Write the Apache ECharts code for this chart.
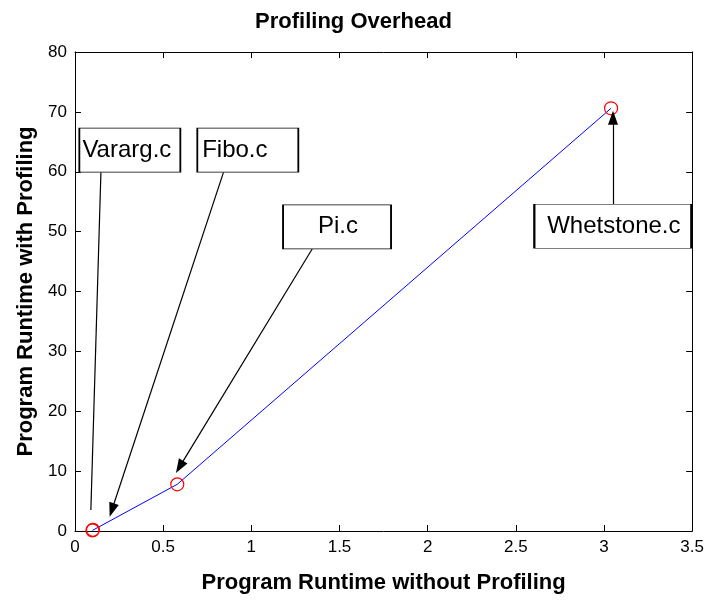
<!DOCTYPE html>
<html><head><meta charset="utf-8">
<script src="https://cdn.jsdelivr.net/npm/echarts@6/dist/echarts.min.js"></script>
<style>html,body{margin:0;padding:0;background:#fff}#c{width:707px;height:601px}</style>
</head><body><div id="c"></div>
<script>
// data
const programs = ['Vararg.c', 'Fibo.c', 'Pi.c', 'Whetstone.c'];
const runtimeWithout = [0.099, 0.102, 0.58, 3.04];
const runtimeWith = [0.1, 0.2, 7.8, 70.6];
const xTicks = [0, 0.5, 1, 1.5, 2, 2.5, 3, 3.5];
const yTicks = [0, 10, 20, 30, 40, 50, 60, 70, 80];
// annotation: label box centre, arrow start, arrow tip (data coordinates)
const noteBox = [[0.311, 63.6], [0.980, 63.6], [1.486, 50.8], [3.05, 50.9]];
const noteFrom = [[0.147, 59.9], [0.842, 59.9], [1.345, 47.1], [3.051, 54.6]];
const noteTo = [[0.090, 3.5], [0.209, 3.5], [0.593, 10.7], [3.051, 69.0]];
const noteHead = [false, true, true, true];
const boxSize = [[101, 44], [101, 44], [108, 44], [157, 44]];
const textShift = [-3, -13, 1, 1];

const chart = echarts.init(document.getElementById('c'));
const font = 'Liberation Sans, Arial, sans-serif';
const axisCommon = {
  min: 0, axisLine: {show: true, onZero: false, lineStyle: {color: '#000', width: 1}},
  axisTick: {show: true, inside: true, length: 6, lineStyle: {color: '#000'}},
  splitLine: {show: false}
};
chart.setOption({
  animation: false,
  backgroundColor: '#fff',
  title: {text: 'Profiling Overhead', left: 'center', top: 6,
    textStyle: {fontFamily: font, fontWeight: 'bold', fontSize: 22, color: '#000'}},
  grid: {left: 75, right: 14, top: 52, bottom: 70, show: false},
  xAxis: [
    Object.assign({}, axisCommon, {type: 'value', max: 3.5, interval: 0.5, position: 'bottom',
      name: 'Program Runtime without Profiling', nameLocation: 'middle', nameGap: 41,
      nameTextStyle: {fontFamily: font, fontWeight: 'bold', fontSize: 22, color: '#000'},
      axisLabel: {fontFamily: font, fontSize: 17, color: '#000', margin: 8,
        formatter: v => xTicks.includes(v) ? String(v) : ''}}),
    Object.assign({}, axisCommon, {type: 'value', max: 3.5, interval: 0.5, position: 'top',
      axisLabel: {show: false}})
  ],
  yAxis: [
    Object.assign({}, axisCommon, {type: 'value', max: 80, interval: 10, position: 'left',
      name: 'Program Runtime with Profiling', nameLocation: 'middle', nameGap: 37,
      nameTextStyle: {fontFamily: font, fontWeight: 'bold', fontSize: 22, color: '#000'},
      axisLabel: {fontFamily: font, fontSize: 17, color: '#000', margin: 8,
        formatter: v => yTicks.includes(v) ? String(v) : ''}}),
    Object.assign({}, axisCommon, {type: 'value', max: 80, interval: 10, position: 'right',
      axisLabel: {show: false}})
  ],
  series: [
    {
      type: 'line',
      data: runtimeWithout.map((x, i) => [x, runtimeWith[i]]),
      lineStyle: {color: '#0000ff', width: 1},
      symbol: 'circle', symbolSize: 13, showSymbol: true,
      itemStyle: {color: 'transparent', borderColor: '#ff0000', borderWidth: 1.2},
      markLine: {
        silent: true, animation: false,
        lineStyle: {color: '#000', width: 1.2, type: 'solid'},
        label: {show: false},
        symbolSize: [0, 14],
        data: programs.map((p, i) => [
          {coord: noteFrom[i], symbol: 'none'},
          {coord: noteTo[i], symbol: noteHead[i] ? 'triangle' : 'none', symbolSize: [10, 14]}
        ])
      },
      markPoint: {
        silent: true, animation: false,
        data: programs.map((p, i) => ({
          coord: noteBox[i], value: p, symbol: 'rect', symbolSize: boxSize[i],
          itemStyle: {color: '#fff', borderColor: '#000', borderWidth: 1.2},
          label: {show: true, position: 'inside', formatter: p, offset: [textShift[i], 0],
            fontFamily: font, fontSize: 24, color: '#000'}
        }))
      }
    }
  ]
});
</script></body></html>
